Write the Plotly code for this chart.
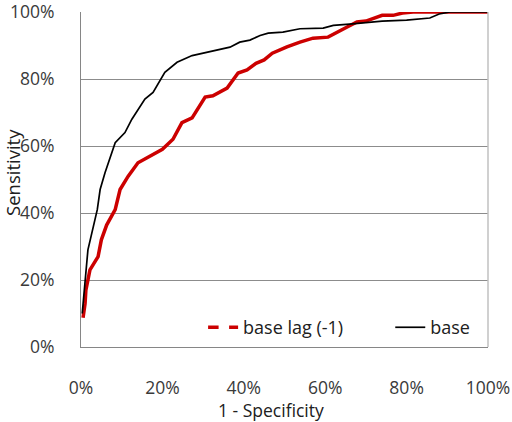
import plotly.graph_objects as go

# 1 - Specificity (%) and Sensitivity (%)
base_x = [0.3, 1.7, 4.0, 4.7, 5.9, 8.4, 10.8, 12.5, 15.7, 17.7, 20.6, 23.6, 27.3, 31.0, 36.6, 39.0,
          41.5, 44.0, 46.0, 49.6, 53.8, 59.5, 62.0, 66.0, 74.0, 80.0, 85.7, 88.0, 90.7, 100.0]
base_y = [10, 29, 41, 47, 52, 61, 64, 68, 74, 76, 82, 85, 87, 88, 89.5, 91,
          91.6, 93, 93.7, 94, 95, 95.2, 96, 96.4, 97.3, 97.6, 98.2, 99.4, 100, 100]

lag_x = [0.5, 1.0, 1.2, 2.2, 4.2, 5.0, 6.3, 8.4, 9.6, 11.6, 14.0, 17.0, 20.0, 22.6, 24.8, 27.3,
         30.5, 32.4, 35.9, 38.6, 40.8, 43.0, 45.0, 47.0, 50.6, 53.8, 57.0, 60.7, 62.9, 65.4,
         67.8, 70.0, 74.0, 76.7, 79.0, 81.6, 100.0]
lag_y = [8.7, 13, 17, 23, 27, 32, 36.4, 41, 47, 51, 55, 57, 59, 62, 67, 68.4,
         74.6, 75, 77.3, 81.8, 82.7, 84.7, 85.7, 87.7, 89.6, 91, 92.2, 92.5, 94, 95.5,
         97, 97.3, 99, 99, 99.7, 100, 100]

series_names = ["base lag (-1)", "base"]
tick_vals = [0, 20, 40, 60, 80, 100]
tick_text = ["0%", "20%", "40%", "60%", "80%", "100%"]

RED = "#cc0000"
FONT = "Open Sans"
TXT = "#3a3a3a"
FS = 17.5

fig = go.Figure()
fig.add_trace(go.Scatter(x=lag_x, y=lag_y, mode="lines", line=dict(color=RED, width=3.5),
                         showlegend=False, hoverinfo="skip"))
fig.add_trace(go.Scatter(x=base_x, y=base_y, mode="lines", line=dict(color="black", width=1.7),
                         showlegend=False, hoverinfo="skip"))
# legend entries (first name padded to space the entries like the reference)
fig.add_trace(go.Scatter(x=[None], y=[None], mode="lines",
                         name=series_names[0] + "\u00a0" * 9,
                         line=dict(color=RED, width=3.5, dash="dash")))
fig.add_trace(go.Scatter(x=[None], y=[None], mode="lines", name=series_names[1],
                         line=dict(color="black", width=1.7)))

fig.update_layout(
    width=512, height=422,
    margin=dict(l=81, r=24, t=12, b=75),
    paper_bgcolor="white", plot_bgcolor="white",
    font=dict(family=FONT, size=FS, color=TXT),
    legend=dict(orientation="h", x=0.30, y=0.058, xanchor="left", yanchor="middle",
                bgcolor="rgba(0,0,0,0)", font=dict(size=18, color="#202020")),
    xaxis=dict(range=[0, 100], tickvals=tick_vals, ticktext=tick_text, automargin=False,
               showgrid=False, zeroline=False, showline=True, linecolor="#868686", linewidth=1,
               ticks="", ticklabelstandoff=25, ticklabeloverflow="allow"),
    yaxis=dict(range=[0, 100], tickvals=tick_vals, ticktext=tick_text, automargin=False,
               showgrid=True, gridcolor="#8c8c8c", gridwidth=1,
               zeroline=False, showline=True, linecolor="#868686", linewidth=1,
               ticks="", ticklabelstandoff=22, ticklabeloverflow="allow"),
    annotations=[
        dict(text="1 - Specificity", xref="paper", yref="paper", x=0.467, y=-0.1866,
             xanchor="center", yanchor="middle", showarrow=False,
             font=dict(size=17.5, color="#202020")),
        dict(text="Sensitivity", xref="paper", yref="paper", x=-0.17, y=0.522,
             xanchor="center", yanchor="middle", showarrow=False, textangle=-90,
             font=dict(size=18.5, color="#202020")),
    ],
    shapes=[dict(type="line", xref="paper", yref="paper", x0=1, x1=1, y0=0, y1=1,
                 line=dict(color="#c0c0c0", width=1.5))],
)

fig.write_html("out.html")
